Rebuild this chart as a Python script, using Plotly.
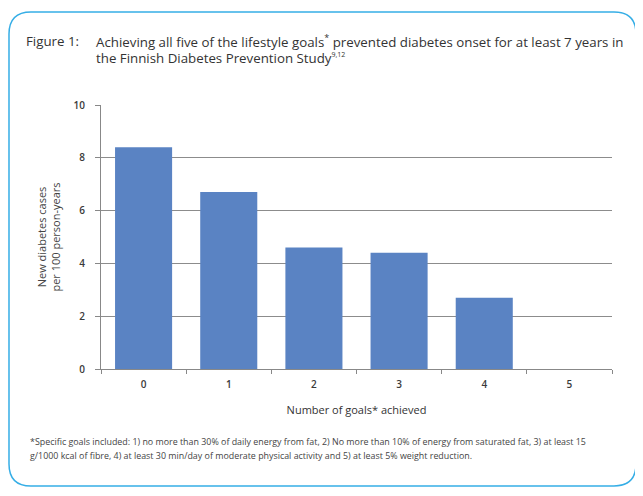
import plotly.graph_objects as go

goals = ["0", "1", "2", "3", "4", "5"]
cases = [8.4, 6.7, 4.6, 4.4, 2.7, 0]
y_ticks = [0, 2, 4, 6, 8, 10]

FONT = "Open Sans"
# page body has an 8px margin; figure drawn 8px smaller so it fits the window
W, H = 635, 488
ML, MR, MT, MB = 93, 31, 97, 127
PW, PH = W - ML - MR, H - MT - MB

fig = go.Figure()
fig.add_trace(go.Bar(x=goals, y=cases, marker=dict(color="#5a83c3", line=dict(width=0)),
                     hoverinfo="x+y"))

fig.update_layout(
    width=W, height=H,
    margin=dict(l=ML, r=MR, t=MT, b=MB),
    paper_bgcolor="white", plot_bgcolor="white",
    bargap=0.33,
    showlegend=False,
    font=dict(family=FONT, color="#333333"),
    xaxis=dict(
        type="category", tickson="boundaries", ticks="outside", ticklen=4,
        tickcolor="#888888", showline=True, linecolor="#888888", linewidth=1,
        showgrid=False, tickfont=dict(size=10, color="#3a3a3a", weight=600),
        ticklabelstandoff=6,
        title=dict(text="Number of goals* achieved", font=dict(size=11, color="#333333"), standoff=16),
    ),
    yaxis=dict(
        range=[0, 10], tickvals=y_ticks, ticks="outside", ticklen=5,
        tickcolor="#888888", showline=True, linecolor="#888888", linewidth=1,
        showgrid=True, gridcolor="#8c8c8c", gridwidth=1, zeroline=False,
        tickfont=dict(size=10, color="#3a3a3a", weight=600),
        ticklabelstandoff=8,
        title=dict(text="New diabetes cases<br>per 100 person-years", font=dict(size=11, color="#444444"), standoff=10),
    ),
)

def to_paper(x, y):
    return (x - ML) / PW, (H - MB - y) / PH

# rounded border box (figure pixel coords)
x0, x1, y0, y1 = 1, 628, 4, 478
r = 22
pts = [("M", [(x0 + r, y0)]), ("L", [(x1 - r, y0)]), ("Q", [(x1, y0), (x1, y0 + r)]),
       ("L", [(x1, y1 - r)]), ("Q", [(x1, y1), (x1 - r, y1)]), ("L", [(x0 + r, y1)]),
       ("Q", [(x0, y1), (x0, y1 - r)]), ("L", [(x0, y0 + r)]), ("Q", [(x0, y0), (x0 + r, y0)])]
path = ""
for cmd, ps in pts:
    path += cmd + " " + " ".join("%.5f,%.5f" % to_paper(px, py) for px, py in ps) + " "
path += "Z"
fig.add_shape(type="path", path=path, xref="paper", yref="paper",
              line=dict(color="#36aee6", width=1.5), fillcolor="rgba(0,0,0,0)", layer="below")

def ann(text, x, y, size, color="#333333"):
    xp, yp = to_paper(x - 8, y - 8)
    fig.add_annotation(text=text, x=xp, y=yp, xref="paper", yref="paper",
                       showarrow=False, xanchor="left", yanchor="middle", align="left",
                       font=dict(size=size, color=color, family=FONT))

ann("Figure 1:", 24, 41, 13.3)
ann("Achieving all five of the lifestyle goals<sup><span style='font-size:9px'>*</span></sup> prevented diabetes onset for at least 7 years in", 94, 41, 13.3)
ann("the Finnish Diabetes Prevention Study<sup><span style='font-size:7px'>9,12</span></sup>", 94, 58, 13.3)
ann("*Specific goals included: 1) no more than 30% of daily energy from fat, 2) No more than 10% of energy from saturated fat, 3) at least 15",
    28, 441, 8.9, "#444444")
ann("g/1000 kcal of fibre, 4) at least 30 min/day of moderate physical activity and 5) at least 5% weight reduction.",
    28, 455, 8.9, "#444444")

fig.write_html("out.html")
